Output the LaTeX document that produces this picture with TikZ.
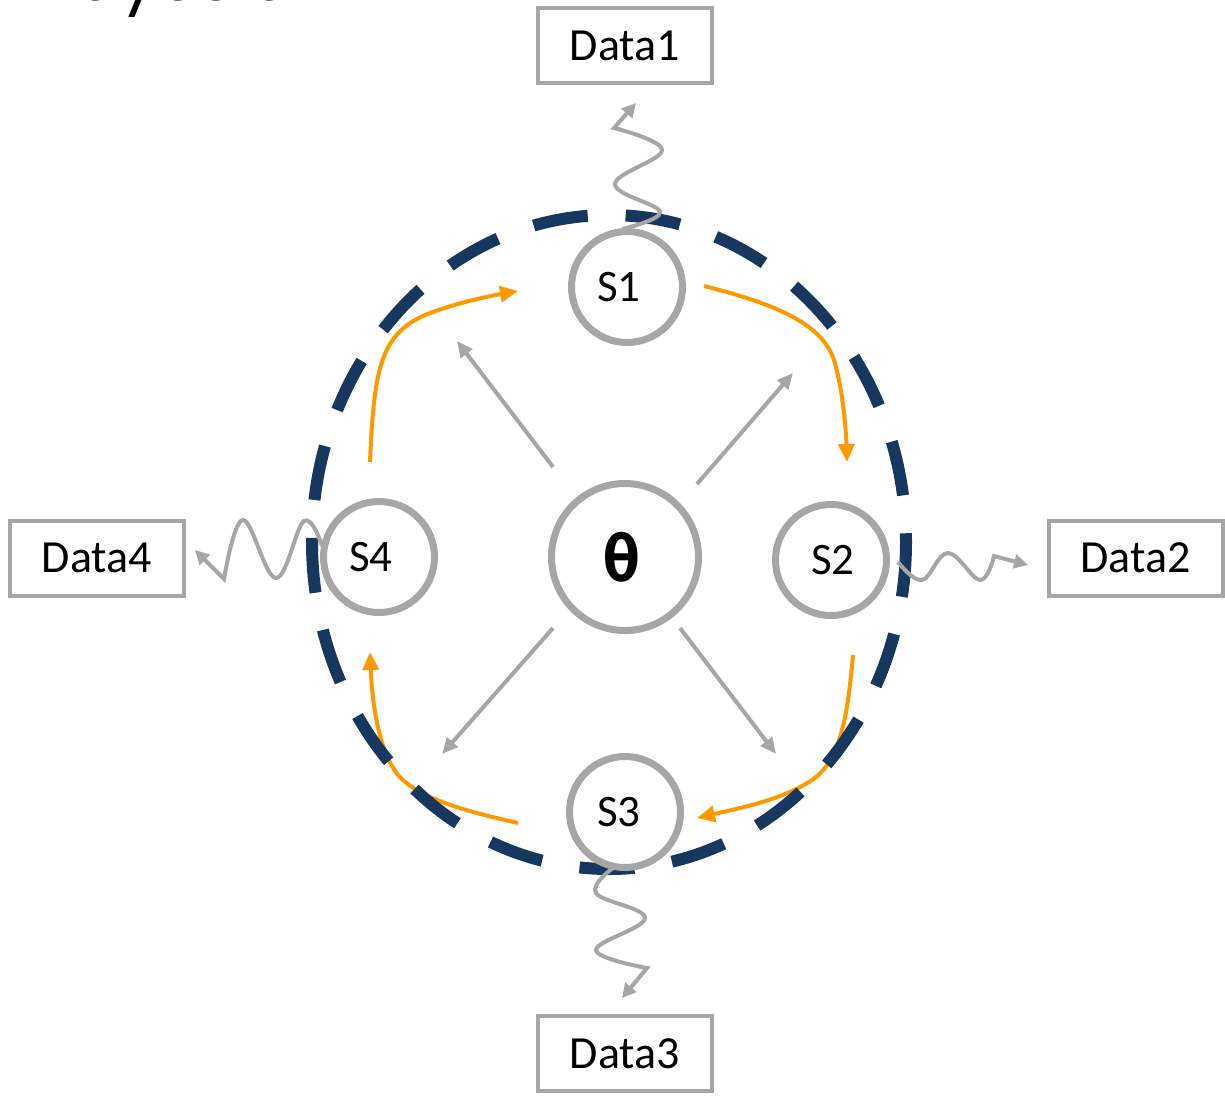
\documentclass[tikz,border=0pt]{standalone}
\usepackage{fontspec}
\setmainfont{Carlito}
\newfontfamily\thetafont{DejaVu Sans Mono}
\newfontfamily\titlefont{Poppins}
\usetikzlibrary{arrows.meta}
\definecolor{navy}{HTML}{17375E}
\definecolor{gline}{HTML}{A6A6A6}
\definecolor{orng}{HTML}{FF9900}
\begin{document}
\begin{tikzpicture}[x=1pt,y=-1pt,
  snode/.style={circle,draw=gline,fill=white,line width=7pt,minimum size=111pt,inner sep=0pt,font=\fontsize{45}{50}\selectfont},
  dbox/.style={rectangle,draw=gline,fill=white,line width=4pt,minimum width=174pt,minimum height=75pt,inner sep=0pt,font=\fontsize{46}{50}\selectfont},
  garrow/.style={draw=gline,line width=4pt,-{Triangle[length=16pt,width=14pt]}},
  oarrow/.style={draw=orng,line width=4pt,-{Triangle[length=18pt,width=16pt]}},
  wave/.style={draw=gline,line width=4pt,-{Triangle[length=14pt,width=14pt]}},
  ring/.style={draw=navy,line width=12pt,dash pattern=on 55pt off 38pt},
]
\useasboundingbox (0,0) rectangle (1225,1095);

% partial title at top edge
\node[anchor=base west,inner sep=0pt,font=\titlefont\fontsize{66}{70}\selectfont] (title) at (35,0) {Bayesian};

% coordinates for orange arrows
\coordinate (o1a) at (370,462);
\coordinate (o1b) at (518,291);
\coordinate (o2a) at (704,286);
\coordinate (o2b) at (847,462);
\coordinate (o3a) at (853,655);
\coordinate (o3b) at (697,818);
\coordinate (o4a) at (518,823);
\coordinate (o4b) at (370,652);

% orange cycle (under the ring)
\draw[oarrow] (o1a) .. controls (374,370) and (380,335) .. (425,315) .. controls (455,303) and (490,296) .. (o1b);
\draw[oarrow] (o2a) .. controls (780,305) and (822,325) .. (834,360) .. controls (843,390) and (846,430) .. (o2b);
\draw[oarrow] (o3a) .. controls (848,710) and (842,760) .. (812,780) .. controls (782,800) and (740,808) .. (o3b);
\draw[oarrow] (o4a) .. controls (470,812) and (420,800) .. (398,775) .. controls (378,750) and (372,700) .. (o4b);

% dashed ring
\draw[ring] (609,542) ellipse [x radius=297, y radius=327];

% nodes
\node[snode] (S1) at (627,287) {\hspace*{-16pt}S1};
\node[snode] (S2) at (831,560) {\hspace*{4pt}S2};
\node[snode] (S3) at (625,812) {\hspace*{-12pt}S3};
\node[snode] (S4) at (379,557) {\hspace*{-16pt}S4};
\node[snode,minimum size=147pt,font=\thetafont\bfseries\fontsize{64}{66}\selectfont] (T) at (625,557) {\hspace*{-6pt}θ};

\node[dbox] (D1) at (625,45.5) {Data1};
\node[dbox] (D2) at (1135.5,558) {Data2};
\node[dbox] (D3) at (625,1053.5) {Data3};
\node[dbox] (D4) at (97,558) {Data4};

% gray arrows from theta
\coordinate (g1a) at (553,467); \coordinate (g1b) at (457,341);
\coordinate (g2a) at (697,484); \coordinate (g2b) at (793,373);
\coordinate (g3a) at (553,628); \coordinate (g3b) at (442,754);
\coordinate (g4a) at (680,628); \coordinate (g4b) at (776,754);
\draw[garrow] (g1a) -- (g1b);
\draw[garrow] (g2a) -- (g2b);
\draw[garrow] (g3a) -- (g3b);
\draw[garrow] (g4a) -- (g4b);

% wavy data links
\coordinate (w1) at (636,103);
\coordinate (w2) at (1028,565);
\coordinate (w3) at (622,998);
\coordinate (w4) at (195,550);
\draw[wave] plot[smooth,tension=0.65] coordinates {(622,229) (660,212) (615,184) (662,150) (614,128)} -- (w1);
\draw[wave] plot[smooth,tension=0.65] coordinates {(898,562) (922,580) (948,553) (980,580) (994,556)} -- (w2);
\draw[wave] plot[smooth,tension=0.65] coordinates {(613,868) (596,893) (645,918) (596,950) (647,968)} -- (w3);
\draw[wave] plot[smooth,tension=0.65] coordinates {(322,546) (304,521) (276,578) (243,520) (224,579)} -- (w4);
\end{tikzpicture}
\end{document}
